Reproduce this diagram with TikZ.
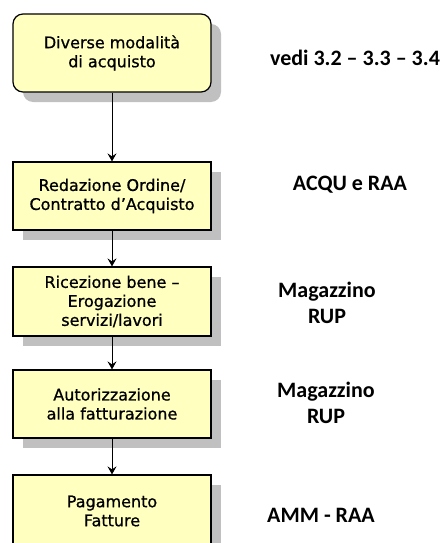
\documentclass[tikz,border=0pt]{standalone}
\usepackage{fontspec}
\usepackage{tikz}
\usetikzlibrary{arrows.meta,shadows}
\newfontfamily\boxfont[FakeBold=0.8]{DejaVu Sans}
\newfontfamily\labelfont{Carlito}
\definecolor{LYellow}{RGB}{255,255,192}
\definecolor{SGray}{RGB}{192,192,192}

\begin{document}
\begin{tikzpicture}[x=1pt, y=-1pt,
  stepbox/.style = {draw, line width=1.2pt, fill=LYellow, minimum width=198pt, align=center,
    font=\boxfont\fontsize{16}{19}\selectfont,
    drop shadow={shadow xshift=10pt, shadow yshift=-10pt, fill=SGray, opacity=1}},
  who/.style = {align=center, inner sep=0pt, font=\labelfont\bfseries\fontsize{22}{26}\selectfont},
  arr/.style = {line width=1pt, -{Stealth[length=8pt, width=9pt, inset=3pt]}}]
\useasboundingbox (0,0) rectangle (446,543);
\clip (0,0) rectangle (446,543);

\node[stepbox, rounded corners=10pt, minimum height=78pt] (modal) at (112,53) {Diverse modalità\\di acquisto};
\node[stepbox, minimum height=68pt] (ordine) at (112,196) {Redazione Ordine/\\Contratto d’Acquisto};
\node[stepbox, minimum height=69pt] (ricez) at (112,301.5) {Ricezione bene –\\Erogazione\\servizi/lavori};
\node[stepbox, minimum height=68pt] (autor) at (112,404) {Autorizzazione\\alla fatturazione};
\node[stepbox, minimum height=72pt] (pagam) at (112,511) {Pagamento\\Fatture};

\draw[arr] (modal) -- (ordine);
\draw[arr] (ordine) -- (ricez);
\draw[arr] (ricez) -- (autor);
\draw[arr] (autor) -- (pagam);

\node[who, anchor=base] (vedi) at (355,65) {vedi 3.2 – 3.3 – 3.4};
\node[who, anchor=base] (acqu) at (350,190) {ACQU e RAA};
\node[who] (mag1) at (327,303) {Magazzino\\RUP};
\node[who] (mag2) at (326,403) {Magazzino\\RUP};
\node[who, anchor=base] (amm) at (321,522) {AMM - RAA};

\end{tikzpicture}
\end{document}
